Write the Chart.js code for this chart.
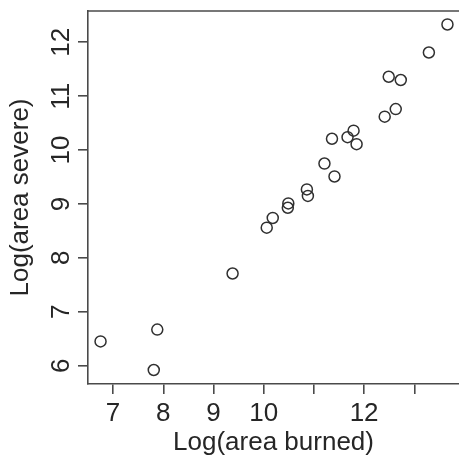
<!DOCTYPE html>
<html>
<head>
<meta charset="utf-8">
<script src="https://cdn.jsdelivr.net/npm/chart.js@4.4.1/dist/chart.umd.min.js"></script>
<style>
  html, body { margin: 0; padding: 0; background: #ffffff; }
  #wrap { width: 459px; height: 461px; }
</style>
</head>
<body>
<div id="wrap"><canvas id="c" width="459" height="461"></canvas></div>
<script>
// Data
const areaBurned = [6.75, 7.88, 7.81, 9.38, 10.06, 10.18, 10.49, 10.48, 10.86, 10.88, 11.21,
                    11.41, 11.36, 11.67, 11.79, 11.85, 12.41, 12.63, 12.49, 12.73, 13.29, 13.66];
const areaSevere = [6.45, 6.67, 5.92, 7.71, 8.56, 8.74, 9.01, 8.93, 9.27, 9.15, 9.75,
                    9.51, 10.21, 10.24, 10.36, 10.11, 10.62, 10.76, 11.36, 11.30, 11.81, 12.33];

const xTickValues = [7, 8, 9, 10, 11, 12, 13];
const xTickLabels = ["7", "8", "9", "10", "", "12", ""];
const yTickValues = [6, 7, 8, 9, 10, 11, 12];
const yTickLabels = ["6", "7", "8", "9", "10", "11", "12"];

const xTitle = "Log(area burned)";
const yTitle = "Log(area severe)";

const points = areaBurned.map((x, i) => ({ x: x, y: areaSevere[i] }));

const AXIS_COLOR = '#4a4a4a';
const TEXT_COLOR = '#262626';
const FONT = "'Liberation Sans', Arial, sans-serif";

const topBorder = {
  id: 'topBorder',
  afterDraw(chart) {
    const a = chart.chartArea, ctx = chart.ctx;
    ctx.save();
    ctx.strokeStyle = AXIS_COLOR;
    ctx.lineWidth = 1.6;
    ctx.beginPath();
    ctx.moveTo(a.left - 0.8, a.top);
    ctx.lineTo(a.right + 2, a.top);
    ctx.stroke();
    ctx.restore();
  }
};

new Chart(document.getElementById('c'), {
  type: 'scatter',
  data: {
    datasets: [{
      data: points,
      pointStyle: 'circle',
      pointRadius: 5.5,
      pointHoverRadius: 5.5,
      pointBorderWidth: 1.5,
      borderColor: '#303030',
      backgroundColor: 'rgba(0,0,0,0)',
      showLine: false,
      clip: false
    }]
  },
  options: {
    responsive: false,
    animation: false,
    events: [],
    layout: { autoPadding: false, padding: { top: 11, right: 0, left: 0, bottom: 0 } },
    plugins: { legend: { display: false }, tooltip: { enabled: false } },
    scales: {
      x: {
        type: 'linear',
        min: 6.5,
        max: 13.89,
        afterBuildTicks: s => { s.ticks = xTickValues.map(v => ({ value: v })); },
        afterFit: s => { s.height = 77; s.paddingLeft = 0; s.paddingRight = 0; },
        border: { display: true, color: AXIS_COLOR, width: 1.6 },
        grid: { display: true, drawOnChartArea: false, drawTicks: true, tickLength: 10, color: AXIS_COLOR, lineWidth: 1.6 },
        ticks: {
          autoSkip: false,
          maxRotation: 0,
          padding: 4,
          color: TEXT_COLOR,
          font: { family: FONT, size: 26 },
          callback: (v, i) => xTickLabels[i]
        },
        title: {
          display: true,
          text: xTitle,
          color: TEXT_COLOR,
          font: { family: FONT, size: 26, lineHeight: 1.2 },
          padding: { top: 0, bottom: 3 }
        }
      },
      y: {
        type: 'linear',
        min: 5.66,
        max: 12.58,
        afterBuildTicks: s => { s.ticks = yTickValues.map(v => ({ value: v })); },
        afterFit: s => { s.width = 88; s.paddingTop = 0; s.paddingBottom = 0; },
        border: { display: true, color: AXIS_COLOR, width: 1.6 },
        grid: { display: true, drawOnChartArea: false, drawTicks: true, tickLength: 10, color: AXIS_COLOR, lineWidth: 1.6 },
        ticks: {
          autoSkip: false,
          minRotation: 90,
          maxRotation: 90,
          crossAlign: 'center',
          padding: 2,
          color: TEXT_COLOR,
          font: { family: FONT, size: 26 },
          callback: (v, i) => yTickLabels[i]
        },
        title: {
          display: true,
          text: yTitle,
          color: TEXT_COLOR,
          font: { family: FONT, size: 26, lineHeight: 1.2 },
          padding: { top: 5, bottom: 0 }
        }
      }
    }
  },
  plugins: [topBorder]
});
</script>
</body>
</html>
